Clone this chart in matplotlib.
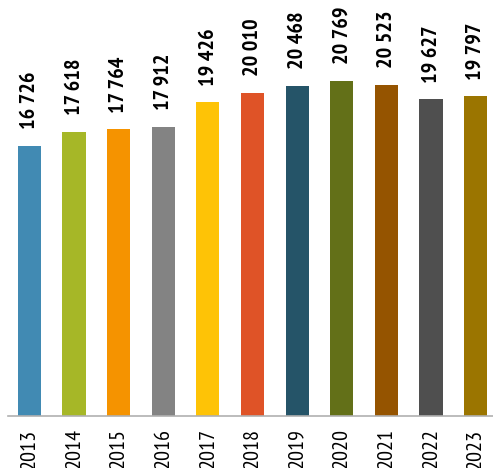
import matplotlib
matplotlib.use("Agg")
import matplotlib.pyplot as plt

years = ["2013", "2014", "2015", "2016", "2017", "2018", "2019", "2020", "2021", "2022", "2023"]
values = [16726, 17618, 17764, 17912, 19426, 20010, 20468, 20769, 20523, 19627, 19797]
colors = ["#418ab3", "#a6b727", "#f59300", "#838383", "#fec306", "#df5327",
          "#255468", "#637018", "#955400", "#4f4f4f", "#9b7500"]

plt.rcParams['font.family'] = ["PT Sans Narrow", 'DejaVu Sans']

fig = plt.figure(figsize=(4.93, 4.68), dpi=100)
ax = fig.add_axes([8/493, (468-416)/468, 485/493, 416/468])
x = list(range(len(years)))
ax.bar(x, values, width=0.52, color=colors, zorder=2)
ax.set_xlim(-0.48, 10.39)
ax.set_ylim(0, 25774)
for s in ["top", "right", "left"]:
    ax.spines[s].set_visible(False)
ax.spines["bottom"].set_color("#b0b0b0")
ax.spines["bottom"].set_linewidth(1.2)
ax.set_yticks([])
ax.set_xticks(x)
ax.set_xticklabels(years, rotation=90, fontsize=16, va="top")
ax.tick_params(axis="x", length=0, pad=9)

def fmt(v):
    return f"{v:,}".replace(",", " ")

for xi, v in zip(x, values):
    ax.annotate(fmt(v), (xi, v), xytext=(0, 12), textcoords="offset points",
                rotation=90, ha="center", va="bottom", fontsize=16, fontweight="bold")

fig.savefig("out.png", dpi=100)
